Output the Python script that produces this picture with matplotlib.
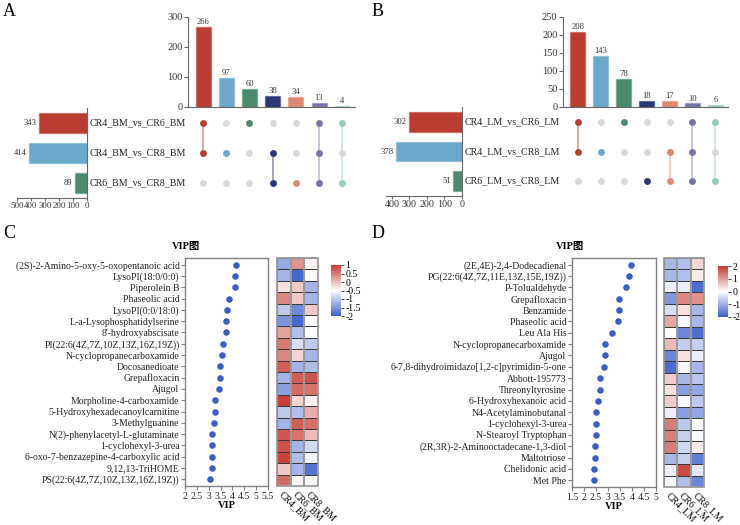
import matplotlib
matplotlib.use('Agg')
import matplotlib.pyplot as plt
import numpy as np
from matplotlib.colors import LinearSegmentedColormap, Normalize, to_rgba
from matplotlib.patches import Rectangle

plt.rcParams['font.family'] = ['Liberation Serif', 'Noto Sans CJK SC', 'DejaVu Sans']

# ---------------- data ----------------
A_sets = ['CR4_BM_vs_CR6_BM', 'CR4_BM_vs_CR8_BM', 'CR6_BM_vs_CR8_BM']
A_set_sizes = [343, 414, 89]
A_counts = [266, 97, 60, 38, 34, 13, 4]
A_members = [[0, 1], [1], [0], [1, 2], [2], [0, 1, 2], [0, 2]]

B_sets = ['CR4_LM_vs_CR6_LM', 'CR4_LM_vs_CR8_LM', 'CR6_LM_vs_CR8_LM']
B_set_sizes = [302, 378, 51]
B_counts = [208, 143, 78, 18, 17, 10, 6]
B_members = [[0, 1], [1], [0], [2], [1, 2], [0, 1, 2], [0, 2]]

C_names = ['(2S)-2-Amino-5-oxy-5-oxopentanoic acid', 'LysoPI(18:0/0:0)', 'Piperolein B',
           'Phaseolic acid', 'LysoPI(0:0/18:0)', 'L-a-Lysophosphatidylserine',
           "8'-hydroxyabscisate", 'PI(22:6(4Z,7Z,10Z,13Z,16Z,19Z))',
           'N-cyclopropanecarboxamide', 'Docosanedioate', 'Grepafloxacin', 'Ajugol',
           'Morpholine-4-carboxamide', '5-Hydroxyhexadecanoylcarnitine', '3-Methylguanine',
           'N(2)-phenylacetyl-L-glutaminate', '1-cyclohexyl-3-urea',
           '6-oxo-7-benzazepine-4-carboxylic acid', '9,12,13-TriHOME',
           'PS(22:6(4Z,7Z,10Z,13Z,16Z,19Z))']
C_vip = [4.15, 4.10, 4.09, 3.85, 3.78, 3.74, 3.73, 3.60, 3.58, 3.46,
         3.46, 3.44, 3.28, 3.27, 3.24, 3.15, 3.14, 3.14, 3.12, 3.05]
C_groups = ['CR4_BM', 'CR6_BM', 'CR8_BM']
C_heat = [[-1.3, 0.3, -0.4], [-1.2, -1.9, -0.45], [-0.3, -0.1, -1.2], [0.4, -0.1, -1.2],
          [-1.0, -1.6, -0.1], [-1.5, -1.9, -0.5], [0.2, -1.1, -0.5], [0.5, -0.8, -1.0],
          [0.4, -0.2, -1.2], [0.7, -1.2, -1.1], [-1.2, 0.7, 0.8], [-1.4, 0.6, 0.55],
          [0.95, -0.2, -0.4], [-1.0, -1.1, 0.1], [-1.2, 0.7, 0.6], [0.75, 0.55, 0.0],
          [0.8, -1.2, -0.85], [0.9, -1.1, -0.6], [-0.1, -1.2, -1.8], [0.6, -0.45, -0.45]]

D_names = ['(2E,4E)-2,4-Dodecadienal', 'PG(22:6(4Z,7Z,11E,13Z,15E,19Z))', 'P-Tolualdehyde',
           'Grepafloxacin', 'Benzamide', 'Phaseolic acid', 'Leu Ala His',
           'N-cyclopropanecarboxamide', 'Ajugol', '6-7,8-dihydroimidazo[1,2-c]pyrimidin-5-one',
           'Abbott-195773', 'Threonyltyrosine', '6-Hydroxyhexanoic acid', 'N4-Acetylaminobutanal',
           '1-cyclohexyl-3-urea', 'N-Stearoyl Tryptophan', '(2R,3R)-2-Aminooctadecane-1,3-diol',
           'Maltotriose', 'Chelidonic acid', 'Met Phe']
D_vip = [3.96, 3.89, 3.75, 3.44, 3.44, 3.40, 3.18, 2.86, 2.86, 2.82,
         2.68, 2.68, 2.57, 2.51, 2.50, 2.50, 2.47, 2.46, 2.42, 2.42]
D_groups = ['CR4_LM', 'CR6_LM', 'CR8_LM']
D_heat = [[-0.9, -0.8, 0.4], [-0.9, -0.8, 0.2], [-0.2, -0.2, -1.8], [-1.3, 1.2, 1.1],
          [-0.4, 0.3, -0.9], [0.9, -0.1, -0.9], [0.0, -1.5, -1.8], [0.7, -0.6, -0.6],
          [-1.5, 0.3, -0.2], [-1.8, -0.1, -0.9], [0.5, -0.9, -0.7], [0.3, -1.2, -1.1],
          [0.5, -0.1, -0.7], [-0.2, -1.2, -1.1], [1.3, -0.7, 0.0], [1.3, -0.6, -0.05],
          [1.3, -0.5, 0.2], [-0.9, -0.6, -1.6], [-0.2, 1.8, -0.3], [-0.1, -0.8, -1.5]]

# ---------------- style ----------------
inter_colors = ['#b83c2f', '#6aa9cc', '#4b8b6d', '#2b3475', '#db8a6f', '#7476aa', '#96cfb7']
set_colors = ['#b83c2f', '#6aa9cc', '#4b8b6d']
cmap = LinearSegmentedColormap.from_list('bwr2', ['#3a5fcd', '#ffffff', '#c8372d'])

W, H = 740, 525
fig = plt.figure(figsize=(7.4, 5.25), dpi=100)


def rect(x0, y0, x1, y1):
    return [x0 / W, 1 - y1 / H, (x1 - x0) / W, (y1 - y0) / H]


def upset(bar_r, mat_r, size_r, label_x, sets, sizes, counts, members,
          ymax, yticks, size_max, size_ticks, size_fs):
    n = len(counts)
    x = np.arange(n)
    axb = fig.add_axes(rect(*bar_r))
    axb.bar(x, counts, width=0.65, color=inter_colors,
            edgecolor=[to_rgba(c, 0.45) for c in inter_colors], linewidth=1)
    for xi, c in zip(x, counts):
        axb.text(xi, c + ymax * 0.008, str(c), ha='center', va='bottom', fontsize=6.2,
                 color='#333333')
    axb.set_xlim(-0.65, n - 0.45)
    axb.set_ylim(0, ymax)
    axb.set_yticks(yticks)
    axb.set_xticks([])
    for s in ['top', 'right']:
        axb.spines[s].set_visible(False)
    for s in ['left', 'bottom']:
        axb.spines[s].set_color('#666666')
        axb.spines[s].set_linewidth(0.8)
    axb.tick_params(axis='y', labelsize=7.5, length=3, width=0.8, color='#666666', pad=1,
                    labelcolor='#333333')
    axb.patch.set_alpha(0)

    axm = fig.add_axes(rect(*mat_r))
    nr = len(sets)
    for j, mem in enumerate(members):
        col = inter_colors[j]
        axm.scatter([j] * nr, range(nr), s=24, color='#d9d9d9', zorder=2, linewidths=0)
        if len(mem) > 1:
            axm.plot([j, j], [min(mem), max(mem)], color=to_rgba(col, 0.55), lw=1.1, zorder=1)
        axm.scatter([j] * len(mem), mem, s=24, color=col, zorder=3, linewidths=0)
    axm.set_xlim(-0.65, n - 0.45)
    axm.set_ylim(nr - 0.5, -0.5)
    axm.axis('off')

    axs = fig.add_axes(rect(*size_r))
    axs.barh(range(nr), sizes, height=0.67, color=set_colors,
             edgecolor=[to_rgba(c, 0.45) for c in set_colors], linewidth=1)
    for i, v in enumerate(sizes):
        axs.text(v + size_max * 0.03, i, str(v), ha='right', va='center', fontsize=6.2,
                 color='#333333')
    axs.set_xlim(size_max, 0)
    axs.set_ylim(nr - 0.5, -0.5)
    axs.set_xticks(size_ticks)
    axs.set_yticks([])
    for s in ['top', 'left']:
        axs.spines[s].set_visible(False)
    for s in ['right', 'bottom']:
        axs.spines[s].set_color('#666666')
        axs.spines[s].set_linewidth(0.8)
    axs.tick_params(axis='x', labelsize=size_fs, length=2, width=0.8, color='#666666', pad=1,
                    labelcolor='#333333')
    axs.patch.set_alpha(0)
    y0, y1 = size_r[1], size_r[3]
    for i, name in enumerate(sets):
        yy = y0 + (i + 0.5) * (y1 - y0) / nr
        fig.text(label_x / W, 1 - yy / H, name, ha='left', va='center', fontsize=7.2,
                 color='#222222')


upset((188, 17, 355, 107), (188, 108, 355, 198), (17, 108, 87, 198), 90,
      A_sets, A_set_sizes, A_counts, A_members, 300, [0, 100, 200, 300],
      500, [500, 400, 300, 200, 100, 0], 6.3)
upset((563, 17, 728, 107), (563, 107, 728, 196), (386, 107, 462, 196), 465,
      B_sets, B_set_sizes, B_counts, B_members, 250, [0, 50, 100, 150, 200, 250],
      434, [400, 300, 200, 100, 0], 7.2)


def vip_panel(ax_r, hm_r, cb_r, names, vip, heat, groups, xlim, xticks,
              vmin, vmax, cbticks, title_x, title_y):
    n = len(names)
    y = np.arange(n)
    ax = fig.add_axes(rect(*ax_r))
    ax.scatter(vip, y, s=22, color='#3a5bc8', zorder=3, linewidths=0)
    ax.set_ylim(n - 0.4, -0.6)
    ax.set_xlim(*xlim)
    ax.set_yticks(y)
    ax.set_yticklabels(names, fontsize=7)
    ax.set_xticks(xticks)
    ax.set_xticklabels([f'{t:g}' for t in xticks], fontsize=7)
    for s in ax.spines.values():
        s.set_color('#808080')
        s.set_linewidth(1.0)
    ax.tick_params(length=3, width=0.8, color='#808080', pad=1, labelcolor='#222222')
    ax.set_xlabel('VIP', fontsize=7.5, fontweight='bold', labelpad=0)
    fig.text(title_x / W, 1 - title_y / H, 'VIP图', ha='center', va='center',
             fontsize=7.5, fontweight='bold')

    axh = fig.add_axes(rect(*hm_r))
    data = np.array(heat)
    mesh = axh.pcolormesh(np.arange(4), np.arange(n + 1), data, cmap=cmap,
                          norm=Normalize(vmin, vmax), edgecolors='#3a3a3a', linewidth=0.5)
    axh.set_xlim(0, 3)
    axh.set_ylim(n, 0)
    for j in range(3):
        axh.add_patch(Rectangle((j, 0), 1, n, fill=False, edgecolor='#9a9a9a', lw=1.3,
                                clip_on=False, zorder=4))
    axh.set_xticks(np.arange(3) + 0.5)
    axh.set_xticklabels(groups, rotation=-45, ha='left', va='top', rotation_mode='anchor',
                        fontsize=7)
    axh.tick_params(length=0, pad=3)
    axh.set_yticks([])
    for s in axh.spines.values():
        s.set_visible(False)

    cax = fig.add_axes(rect(*cb_r))
    cb = fig.colorbar(mesh, cax=cax, ticks=cbticks)
    cb.outline.set_visible(False)
    cb.ax.set_yticklabels([f'{t:g}' for t in cbticks])
    cb.ax.tick_params(labelsize=7, length=2, width=0.5, pad=1)


vip_panel((185, 258, 268, 486), (277, 258, 318, 486), (331, 265, 341, 316),
          C_names, C_vip, C_heat, C_groups, (2, 5.5), np.arange(2, 5.51, 0.5),
          -2, 1, [1, 0.5, 0, -0.5, -1, -1.5, -2], 186, 246)
vip_panel((572, 258, 656, 487), (664, 258, 704, 487), (718, 266, 728, 317),
          D_names, D_vip, D_heat, D_groups, (1.5, 5), np.arange(1.5, 5.01, 0.5),
          -2, 2, [2, 1, 0, -1, -2], 570, 246)

for lab, xx, yy in [('A', 3, 11), ('B', 372, 11), ('C', 3, 233), ('D', 372, 233)]:
    fig.text(xx / W, 1 - yy / H, lab, ha='left', va='center', fontsize=13)

fig.savefig('out.png', dpi=100)
